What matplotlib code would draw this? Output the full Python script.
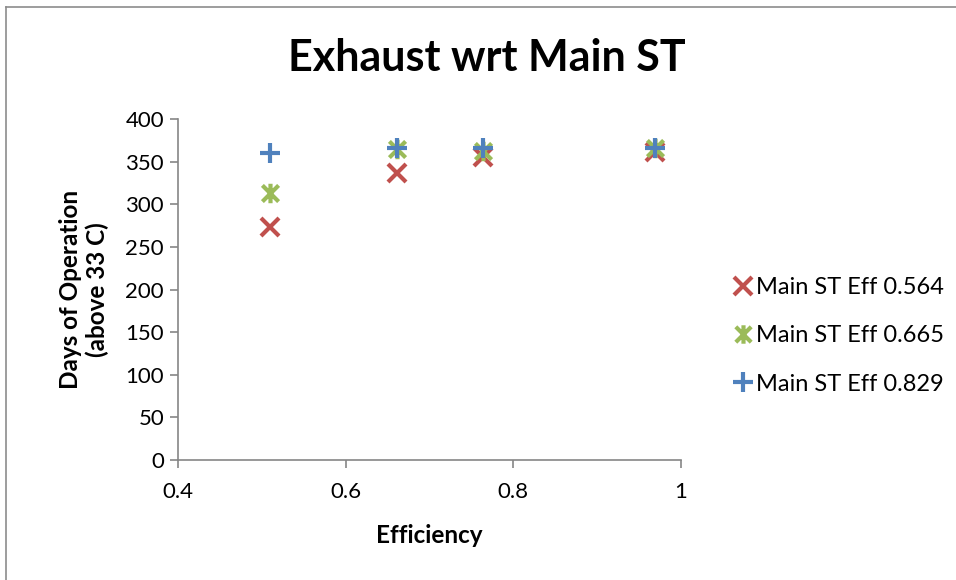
import numpy as np
import matplotlib.pyplot as plt
from matplotlib.path import Path
from matplotlib.lines import Line2D

plt.rcParams['font.family'] = ['Lato', 'DejaVu Sans']

# Data
efficiency = [0.51, 0.661, 0.764, 0.969]
days_564 = [273, 337, 355, 361]
days_665 = [313, 365, 362, 366]
days_829 = [360, 366, 366, 366]
series_labels = ['Main ST Eff 0.564', 'Main ST Eff 0.665', 'Main ST Eff 0.829']

red = '#C0504D'
green = '#9BBB59'
blue = '#4F81BD'

# Excel style "star" marker: an x with a vertical bar through it
star_path = Path(
    [(-1, -1), (1, 1), (-1, 1), (1, -1), (0, -1.2), (0, 1.2)],
    [Path.MOVETO, Path.LINETO, Path.MOVETO, Path.LINETO, Path.MOVETO, Path.LINETO]
)

fig = plt.figure(figsize=(9.56, 5.8), dpi=100)
ax = fig.add_axes([178 / 956, 120 / 580, 503 / 956, 341 / 580])

ax.plot(efficiency, days_564, linestyle='none', marker='x', color=red,
        markersize=13, markeredgewidth=3, label=series_labels[0])
ax.plot(efficiency, days_665, linestyle='none', marker=star_path, color=green,
        markersize=14, markeredgewidth=3, label=series_labels[1])
ax.plot(efficiency, days_829, linestyle='none', marker='+', color=blue,
        markersize=15, markeredgewidth=3, label=series_labels[2])

ax.set_xlim(0.4, 1.0)
ax.set_ylim(0, 400)
ax.set_xticks([0.4, 0.6, 0.8, 1.0])
ax.set_xticklabels(['0.4', '0.6', '0.8', '1'])
ax.set_yticks(np.arange(0, 401, 50))

for side in ['top', 'right']:
    ax.spines[side].set_visible(False)
for side in ['left', 'bottom']:
    ax.spines[side].set_color('#868686')
    ax.spines[side].set_linewidth(1.2)
ax.tick_params(direction='out', length=6, width=1.2, color='#868686',
               labelsize=16, labelcolor='black')
ax.tick_params(axis='x', pad=10)
ax.tick_params(axis='y', pad=4)

ax.set_xlabel('Efficiency', fontsize=17.5, fontweight='bold', labelpad=16)
ax.set_ylabel('Days of Operation\n(above 33 C)', fontsize=17.5, fontweight='bold',
              labelpad=12, linespacing=1.15)

fig.text(487 / 956, 1 - 58 / 580, 'Exhaust wrt Main ST', fontsize=31,
         fontweight='bold', ha='center', va='center')

ax.legend(loc='center left', bbox_to_anchor=(724 / 956, 1 - 336 / 580),
          bbox_transform=fig.transFigure, frameon=False, fontsize=17,
          handlelength=0.8, handletextpad=0.15, labelspacing=1.15,
          borderaxespad=0, markerscale=0.95)

# chart border on the left and top edges
fig.add_artist(Line2D([6 / 956, 6 / 956], [0, 1 - 7 / 580], color='#8c8c8c', lw=1.2))
fig.add_artist(Line2D([6 / 956, 1], [1 - 7 / 580, 1 - 7 / 580], color='#8c8c8c', lw=1.2))

fig.savefig('out.png', dpi=100)
